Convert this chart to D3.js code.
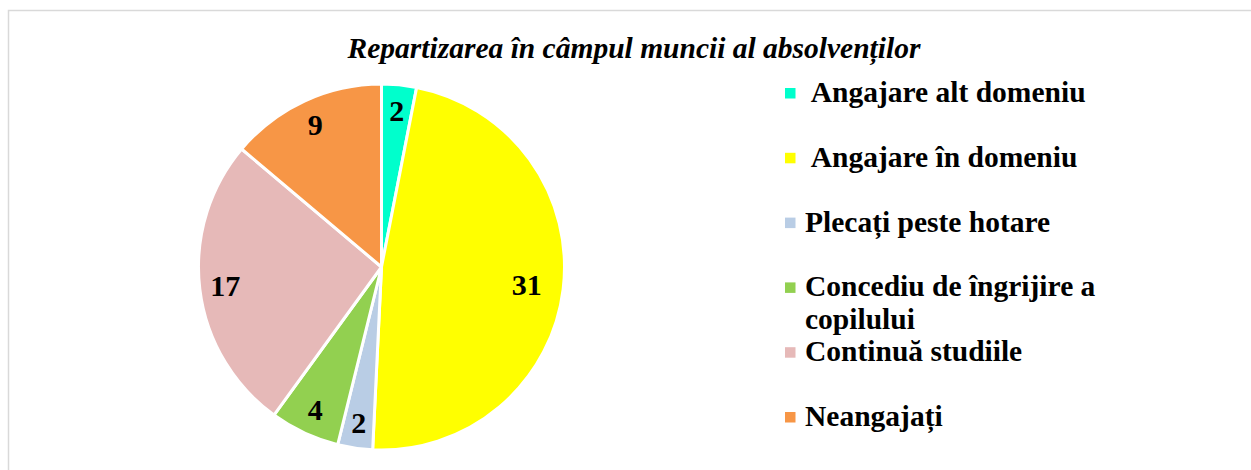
<!DOCTYPE html>
<html>
<head>
<meta charset="utf-8">
<script src="https://cdnjs.cloudflare.com/ajax/libs/d3/7.8.5/d3.min.js"></script>
<style>
  html, body { margin: 0; padding: 0; background: #fff; }
  text { font-family: 'Liberation Serif', 'Times New Roman', serif; }
</style>
</head>
<body>
<div id="chart"></div>
<script>
var categories = [ ' Angajare alt domeniu', ' Angajare în domeniu', 'Plecați peste hotare',
  'Concediu de îngrijire a|copilului', 'Continuă studiile', 'Neangajați' ];
var values = [ 2, 31, 2, 4, 17, 9 ];
var colors = [ '#00FFCC', '#FFFF00', '#B9CDE5', '#92D050', '#E6B9B8', '#F79646' ];
var title = 'Repartizarea în câmpul muncii al absolvenților';

var width = 1251, height = 470,
  cx = 381.5, cy = 267, radius = 183;

var svg = d3.select( '#chart' ).append( 'svg' )
  .attr( 'width', width )
  .attr( 'height', height );

// frame (only top and left edges show)
svg.append( 'path' )
  .attr( 'd', 'M8.5,' + height + 'V10.5H' + width )
  .attr( 'fill', 'none' )
  .attr( 'stroke', '#D9D9D9' )
  .attr( 'stroke-width', 1.5 );

svg.append( 'text' )
  .attr( 'x', 634 )
  .attr( 'y', 58 )
  .attr( 'text-anchor', 'middle' )
  .attr( 'font-size', 29.5 )
  .attr( 'font-style', 'italic' )
  .attr( 'font-weight', 'bold' )
  .text( title );

var pie = d3.pie().sort( null ).value( d => d );
var arcs = pie( values );

var arc = d3.arc().innerRadius( 0 ).outerRadius( radius );

var g = svg.append( 'g' )
  .attr( 'transform', 'translate(' + cx + ',' + cy + ')' );

g.selectAll( '.slice' )
  .data( arcs )
  .enter()
  .append( 'path' )
    .attr( 'class', 'slice' )
    .attr( 'd', arc )
    .attr( 'fill', ( d, i ) => colors[ i ] )
    .attr( 'stroke', '#fff' )
    .attr( 'stroke-width', 3 )
    .attr( 'stroke-linejoin', 'round' );

// labels sit near the rim, the big slice a bit further in
var labelArc = d => d3.arc()
  .innerRadius( radius * ( d.data > 20 ? 0.8 : 0.86 ) )
  .outerRadius( radius * ( d.data > 20 ? 0.8 : 0.86 ) );

g.selectAll( '.lbl' )
  .data( arcs )
  .enter()
  .append( 'text' )
    .attr( 'class', 'lbl' )
    .attr( 'transform', d => 'translate(' + labelArc( d ).centroid( d ) + ')' )
    .attr( 'text-anchor', 'middle' )
    .attr( 'dy', '0.35em' )
    .attr( 'font-size', 30 )
    .attr( 'font-weight', 'bold' )
    .text( d => d.data );

// legend
var legendY = d3.scalePoint()
  .domain( d3.range( categories.length ) )
  .range( [ 88, 412 ] );

var legend = svg.selectAll( '.legend' )
  .data( categories )
  .enter()
  .append( 'g' )
    .attr( 'class', 'legend' )
    .attr( 'transform', ( d, i ) => 'translate(785,' + legendY( i ) + ')' );

legend.append( 'rect' )
  .attr( 'width', 10.5 )
  .attr( 'height', 10.5 )
  .attr( 'fill', ( d, i ) => colors[ i ] );

legend.append( 'text' )
  .attr( 'x', 20 )
  .attr( 'y', 14 )
  .attr( 'font-size', 29.5 )
  .attr( 'font-weight', 'bold' )
  .style( 'white-space', 'pre' )
  .selectAll( 'tspan' )
  .data( d => d.split( '|' ) )
  .enter()
  .append( 'tspan' )
    .attr( 'x', 20 )
    .attr( 'dy', ( d, i ) => i ? 33 : 0 )
    .text( d => d );
</script>
</body>
</html>
